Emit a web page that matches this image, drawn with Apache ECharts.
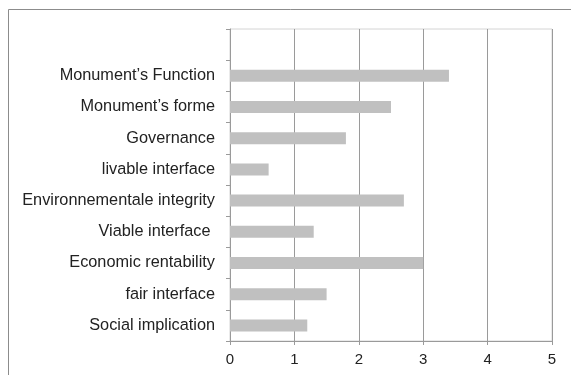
<!DOCTYPE html>
<html>
<head>
<meta charset="utf-8">
<script src="https://cdn.jsdelivr.net/npm/echarts@6/dist/echarts.min.js"></script>
<style>
  html, body { margin: 0; padding: 0; background: #fff; }
  #chart { width: 571px; height: 375px; }
</style>
</head>
<body>
<div id="chart"></div>
<script>
// Criteria listed bottom to top; the last slot is left blank on purpose
var categories = [
  'Social implication',
  'fair interface',
  'Economic rentability',
  'Viable interface ',
  'Environnementale integrity',
  'livable interface',
  'Governance',
  'Monument\u2019s forme',
  'Monument\u2019s Function',
  ''
];
var scores = [1.2, 1.5, 3.0, 1.3, 2.7, 0.6, 1.8, 2.5, 3.4, null];
var xTicks = [0, 1, 2, 3, 4, 5];

var chart = echarts.init(document.getElementById('chart'), null, { renderer: 'canvas' });

var font = '"Liberation Sans", Arial, sans-serif';
var lineGrey = '#9a9a9a';

chart.setOption({
  animation: false,
  backgroundColor: '#fff',
  textStyle: { fontFamily: font },
  graphic: [{
    type: 'rect',
    silent: true,
    shape: { x: 8.5, y: 9.5, width: 700, height: 500 },
    style: { fill: 'none', stroke: '#8c8c8c', lineWidth: 1 }
  }],
  grid: {
    left: 230, right: 19, top: 29, bottom: 34,
    show: true,
    borderColor: '#d4d4d4',
    borderWidth: 1,
    backgroundColor: 'transparent'
  },
  xAxis: {
    type: 'value',
    min: xTicks[0],
    max: xTicks[xTicks.length - 1],
    interval: 1,
    axisLine: { show: true, lineStyle: { color: lineGrey } },
    axisTick: { show: true, length: 4, lineStyle: { color: lineGrey } },
    splitLine: { show: true, lineStyle: { color: lineGrey, width: 1 } },
    axisLabel: { color: '#222', fontSize: 15, margin: 11, fontFamily: font }
  },
  yAxis: {
    type: 'category',
    data: categories,
    axisLine: { show: true, lineStyle: { color: lineGrey } },
    axisTick: { show: true, length: 4, lineStyle: { color: lineGrey } },
    splitLine: { show: false },
    axisLabel: { color: '#222', fontSize: 16.3, margin: 15, fontFamily: font }
  },
  series: [{
    type: 'bar',
    data: scores,
    barWidth: 12,
    itemStyle: { color: '#c0c0c0' },
    silent: true
  }]
});
</script>
</body>
</html>
